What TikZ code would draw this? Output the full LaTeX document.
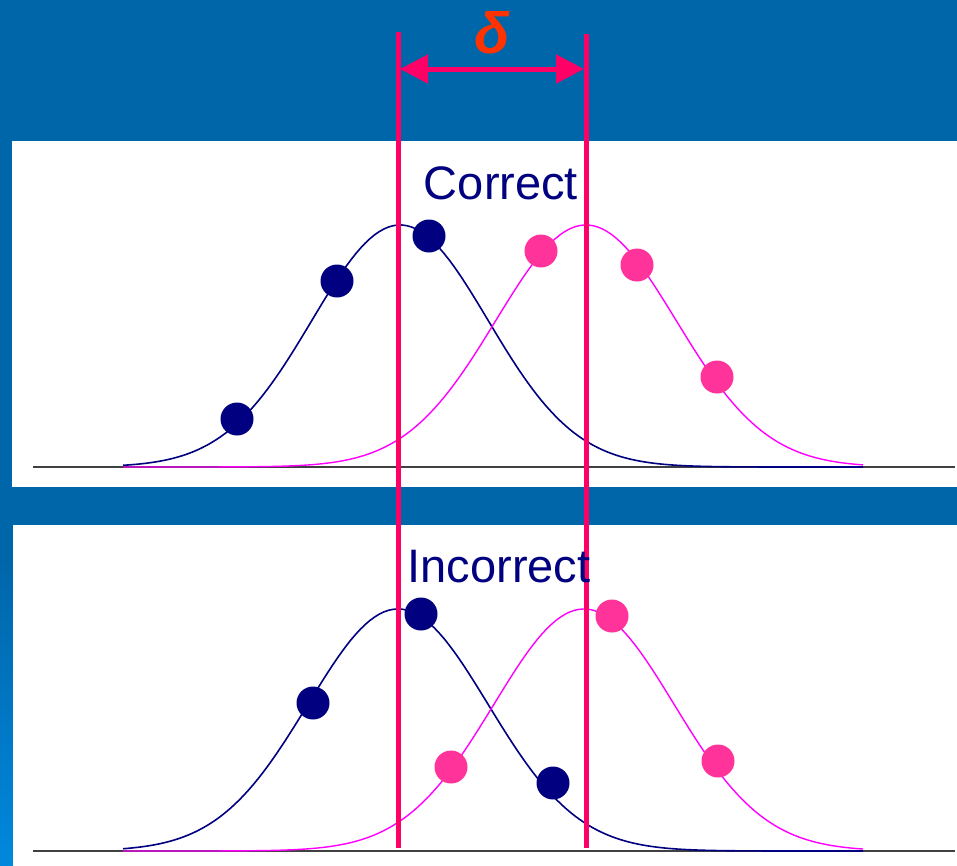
\documentclass[tikz,border=0pt]{standalone}
\usepackage{fontspec}
\setmainfont{Liberation Sans}
\usetikzlibrary{arrows.meta,positioning}
\definecolor{slideblue}{RGB}{0,102,170}
\definecolor{stripblue}{RGB}{0,136,221}
\definecolor{navy}{RGB}{0,0,128}
\definecolor{dotpink}{RGB}{255,51,153}
\definecolor{curvepink}{RGB}{255,0,255}
\definecolor{markred}{RGB}{255,0,102}
\definecolor{deltared}{RGB}{255,51,0}
\definecolor{axisgray}{RGB}{64,64,64}

\begin{document}
\begin{tikzpicture}[x=1pt, y=-1pt, >={Triangle[length=28pt,width=28pt]},
  dot/.style={circle, fill, inner sep=0pt, minimum size=33pt},
  bdot/.style={dot, navy}, pdot/.style={dot, dotpink},
  axis/.style={axisgray, line width=1.3pt},
  bcurve/.style={navy, line width=1.6pt, domain=123:863, samples=160},
  pcurve/.style={curvepink, line width=1.4pt, domain=123:863, samples=160},
  marker/.style={markred, line width=5pt},
  label/.style={navy, font=\fontsize{47}{47}\selectfont, anchor=base, inner sep=0pt}]
  % background and panels
  \fill[slideblue] (0,0) rectangle (957,865);
  \shade[top color=slideblue, bottom color=stripblue] (0,560) rectangle (13,865);
  \fill[white] (12,141) rectangle (957,487);
  \fill[white] (13,525) rectangle (957,865);
  % top panel
  \draw[axis] (33,467) -- (955,467);
  \draw[bcurve] plot (\x, {467-242*exp(-0.5*((\x-400)/88)^2)});
  \draw[pcurve] plot (\x, {467-242*exp(-0.5*((\x-586)/90)^2)});
  \node[bdot] (c1) at (237,419) {};
  \node[bdot] (c2) at (337,281) {};
  \node[bdot] (c3) at (429,236) {};
  \node[pdot] (c4) at (541,251) {};
  \node[pdot] (c5) at (637,265) {};
  \node[pdot] (c6) at (717,377) {};
  % bottom panel
  \draw[axis] (33,851) -- (955,851);
  \draw[bcurve] plot (\x, {851-242*exp(-0.5*((\x-398)/90)^2)});
  \draw[pcurve] plot (\x, {851-242*exp(-0.5*((\x-584)/90)^2)});
  \node[bdot] (i1) at (313,703) {};
  \node[bdot] (i2) at (421,614) {};
  \node[bdot] (i3) at (553,783) {};
  \node[pdot] (i4) at (451,767) {};
  \node[pdot] (i5) at (612,616) {};
  \node[pdot] (i6) at (718,761) {};
  % shift markers
  \coordinate (ltop) at (398,32);  \coordinate (lbot) at (398,848);
  \coordinate (rtop) at (586,34);  \coordinate (rbot) at (586,848);
  \draw[marker] (ltop) -- (lbot);
  \draw[marker] (rtop) -- (rbot);
  \node[label] (correct) at (501,199) {Correct};
  \node[label] (incorrect) at (499,582) {Incorrect};
  \coordinate (aleft) at (400,69); \coordinate (aright) at (584,69);
  \draw[marker, <->] (aleft) -- (aright);
  \node[deltared, font=\fontsize{58}{58}\selectfont\bfseries\itshape, inner sep=0pt] (delta) at (492,33) {δ};
\end{tikzpicture}
\end{document}
